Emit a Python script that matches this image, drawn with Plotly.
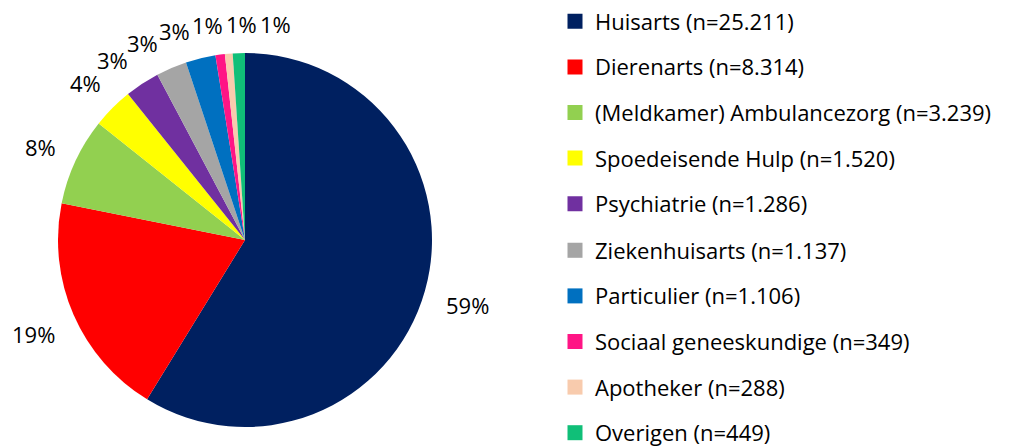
import math
import plotly.graph_objects as go

labels = ["Huisarts (n=25.211)", "Dierenarts (n=8.314)", "(Meldkamer) Ambulancezorg (n=3.239)",
          "Spoedeisende Hulp (n=1.520)", "Psychiatrie (n=1.286)", "Ziekenhuisarts (n=1.137)",
          "Particulier (n=1.106)", "Sociaal geneeskundige (n=349)", "Apotheker (n=288)",
          "Overigen (n=449)"]
values = [25211, 8314, 3239, 1520, 1286, 1137, 1106, 349, 288, 449]
colors = ["#002060", "#FF0000", "#92D050", "#FFFF00", "#7030A0", "#A5A5A5",
          "#0070C0", "#FF1585", "#F8CBAD", "#10BF78"]

W, H = 1010, 448
FONT = "Open Sans"
FS = 22
# pie placement (pixels)
CX, CY, R = 245, 240, 187

fig = go.Figure()
fig.add_trace(go.Pie(
    labels=labels, values=values, sort=False, direction="clockwise", rotation=0,
    marker=dict(colors=colors, line=dict(width=0)),
    textinfo="none", textposition="none", hoverinfo="label+percent",
    domain=dict(x=[(CX - R) / W, (CX + R) / W], y=[1 - (CY + R) / H, 1 - (CY - R) / H]),
    showlegend=False,
))

# percentage labels placed outside the pie, Excel-style, derived from the values
total = sum(values)
fracs = [v / total for v in values]
mids = []
cum = 0.0
for f in fracs:
    mids.append((cum + f / 2) * 360.0)
    cum += f
texts = [f"{round(f * 100)}%" for f in fracs]

# simple de-overlap relaxation of the label angles
ang = mids[:]
MIN_SEP = 8.8
for _ in range(500):
    moved = False
    for i in range(len(ang) - 1):
        gap = ang[i + 1] - ang[i]
        if gap < MIN_SEP:
            d = (MIN_SEP - gap) / 2
            ang[i] -= d
            ang[i + 1] += d
            moved = True
    if not moved:
        break

for t, a in zip(texts, ang):
    rad = math.radians(a)
    s, c = math.sin(rad), math.cos(rad)
    n_dig = len(t) - 1
    hw = (n_dig * 0.56 + 0.85) * FS / 2
    hh = FS * 0.5
    d = R + 20 + hw * abs(s) + hh * abs(c)
    px = CX + d * s
    py = CY - d * c + 2
    fig.add_annotation(x=px / W, y=1 - py / H, xref="paper", yref="paper",
                       text=t, showarrow=False, xanchor="center", yanchor="middle",
                       font=dict(family=FONT, size=FS, color="#000000"))

# legend entries (square markers), split over two legends to avoid scrolling
for i, (lab, col) in enumerate(zip(labels, colors)):
    fig.add_trace(go.Scatter(x=[None], y=[None], mode="markers", name=lab,
                             legendgroup=str(i), legend="legend" if i < 5 else "legend2",
                             marker=dict(symbol="square", size=15, color=col)))

STEP = 45.8
TOP = 0.5
leg_common = dict(xanchor="left", yanchor="top",
                  font=dict(family=FONT, size=FS, color="#000000"),
                  traceorder="grouped", tracegroupgap=14, itemsizing="trace",
                  bgcolor="rgba(0,0,0,0)")
fig.update_xaxes(visible=False)
fig.update_yaxes(visible=False)
fig.update_layout(
    width=W, height=H, margin=dict(l=0, r=0, t=0, b=0, autoexpand=False),
    paper_bgcolor="white", plot_bgcolor="white",
    font=dict(family=FONT, size=FS, color="#000000"),
    legend=dict(x=555 / W, y=1 - TOP / H, **leg_common),
    legend2=dict(x=555 / W, y=1 - (TOP + 5 * STEP) / H, **leg_common),
    showlegend=True,
)
fig.write_html("out.html", config={"displayModeBar": False},
               post_script="document.body.style.margin='0';")
